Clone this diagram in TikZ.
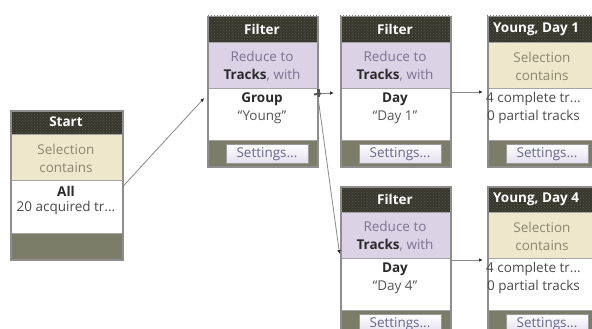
\documentclass[tikz,border=0pt]{standalone}
\usepackage{fontspec}
\setmainfont{Open Sans}
\usetikzlibrary{arrows.meta,patterns}
\definecolor{hdr}{HTML}{37372E}
\definecolor{hdrdot}{HTML}{5A5A4E}
\definecolor{beige}{HTML}{EFE7CC}
\definecolor{lav}{HTML}{DBD2E6}
\definecolor{foot}{HTML}{7B7D69}
\definecolor{framec}{HTML}{8E8E8E}
\definecolor{olivetxt}{HTML}{8B8670}
\definecolor{lavtxt}{HTML}{7B7391}
\definecolor{darktxt}{HTML}{2B2B2B}
\definecolor{quotetxt}{HTML}{555555}
\definecolor{btnlav}{HTML}{E3DEEE}
\definecolor{btnborder}{HTML}{9A9A9A}
\definecolor{btntxt}{HTML}{66668A}
\definecolor{linegray}{HTML}{8A8A8A}
\tikzset{
  base/.style={inner sep=0pt,font=\fontsize{13.5}{16}\selectfont},
  hdrtext/.style={inner sep=0pt,text=white,font=\fontsize{13.5}{16}\selectfont\bfseries},
  olive/.style={base,text=olivetxt},
  lavt/.style={base,text=lavtxt},
  boldt/.style={inner sep=0pt,text=darktxt,font=\fontsize{13.5}{16}\selectfont\bfseries},
  quotet/.style={base,text=quotetxt},
  plaint/.style={base,text=darktxt!85},
  frame/.style={draw=framec,line width=1.5pt,inner sep=0pt,fill=none},
  sepline/.style={draw=framec!80,line width=0.7pt},
  btn/.style={base,draw=btnborder,line width=0.8pt,top color=white,bottom color=btnlav,
    text=btntxt,minimum width=82pt,minimum height=19pt},
  conn/.style={draw=linegray,line width=0.8pt,
    -{Latex[length=4pt,width=3.5pt,color=darktxt]},shorten >=4pt},
  handle/.style={conn,{Rectangle[length=2pt,width=7pt,color=darktxt!80]}-{Latex[length=4pt,width=3.5pt,color=darktxt]}}
}
% #1 name, #2 left, #3 top, #4 width, #5 middle colour
\newcommand\panel[5]{%
  \begin{scope}[shift={(#2,#3)}]
    \fill[hdr] (0,0) rectangle (#4,\phdr);
    \fill[pattern=crosshatch dots,pattern color=hdrdot] (0,0) rectangle (#4,\phdr);
    \fill[#5] (0,\phdr) rectangle (#4,\phdr+\pmid);
    \fill[white] (0,\phdr+\pmid) rectangle (#4,\phdr+\pmid+\pwhite);
    \fill[foot] (0,\phdr+\pmid+\pwhite) rectangle (#4,\ptotal);
    \draw[sepline] (0,\phdr) -- (#4,\phdr);
    \draw[sepline] (0,\phdr+\pmid) -- (#4,\phdr+\pmid);
    \draw[sepline] (0,\phdr+\pmid+\pwhite) -- (#4,\phdr+\pmid+\pwhite);
    \node[frame,minimum width=#4pt,minimum height=\ptotal pt,anchor=north west] (#1) at (0,0) {};
    \node[inner sep=0pt,minimum width=#4pt,minimum height=\pwhite pt,anchor=north west] (#1-w) at (0,\phdr+\pmid) {};
  \end{scope}}
\begin{document}
\begin{tikzpicture}[x=1pt,y=-1pt]
\useasboundingbox (0,0) rectangle (592,329);
\fill[white] (0,0) rectangle (592,329);

% ---- Start box
\def\phdr{24}\def\pmid{46}\def\pwhite{53}\def\ptotal{149}
\panel{start}{10}{110}{112}{beige}
\node[hdrtext] (start-h) at (66,122) {Start};
\node[olive] (start-a) at (66,149) {Selection};
\node[olive] (start-b) at (66,168) {contains};
\begin{scope}
\clip (10,180) rectangle (122,233);
\node[boldt] (start-c) at (66,191) {All};
\node[plaint] (start-d) at (66,208) {20 acquired tr...};
\end{scope}

% ---- other boxes
\def\phdr{26}\def\pmid{46}\def\pwhite{52}\def\ptotal{150}
\panel{f1}{207}{16}{110}{lav}
\panel{f2}{340}{16}{110}{lav}
\panel{y1}{487}{16}{110}{beige}
\panel{f3}{340}{186}{110}{lav}
\panel{y4}{487}{186}{110}{beige}

% f1
\node[hdrtext] (f1-h) at (262,29) {Filter};
\node[lavt] (f1-a) at (262,56) {Reduce to};
\node[lavt] (f1-b) at (262,75) {\textcolor{darktxt}{\bfseries Tracks}, with};
\node[boldt] (f1-c) at (262,99) {Group};
\node[quotet] (f1-d) at (262,117) {``Young''};
\node[btn] (f1-s) at (267,154) {Settings...};

% f2
\node[hdrtext] (f2-h) at (395,29) {Filter};
\node[lavt] (f2-a) at (395,56) {Reduce to};
\node[lavt] (f2-b) at (395,75) {\textcolor{darktxt}{\bfseries Tracks}, with};
\node[boldt] (f2-c) at (395,99) {Day};
\node[quotet] (f2-d) at (395,117) {``Day 1''};
\node[btn] (f2-s) at (400,154) {Settings...};

% f3
\node[hdrtext] (f3-h) at (395,199) {Filter};
\node[lavt] (f3-a) at (395,226) {Reduce to};
\node[lavt] (f3-b) at (395,245) {\textcolor{darktxt}{\bfseries Tracks}, with};
\node[boldt] (f3-c) at (395,269) {Day};
\node[quotet] (f3-d) at (395,287) {``Day 4''};
\node[btn] (f3-s) at (400,324) {Settings...};

% y1
\node[hdrtext,anchor=west] (y1-h) at (493,29) {Young, Day 1};
\node[olive] (y1-a) at (542,57) {Selection};
\node[olive] (y1-b) at (542,76) {contains};
\node[plaint,anchor=west] (y1-c) at (486,99) {4 complete tr...};
\node[plaint,anchor=west] (y1-d) at (487,117) {0 partial tracks};
\node[btn] (y1-s) at (547,154) {Settings...};

% y4
\node[hdrtext,anchor=west] (y4-h) at (493,199) {Young, Day 4};
\node[olive] (y4-a) at (542,227) {Selection};
\node[olive] (y4-b) at (542,246) {contains};
\node[plaint,anchor=west] (y4-c) at (486,269) {4 complete tr...};
\node[plaint,anchor=west] (y4-d) at (487,287) {0 partial tracks};
\node[btn] (y4-s) at (547,324) {Settings...};

% ---- connectors
\coordinate (start-o) at ([yshift=-7pt]start-w.north east);
\coordinate (f1-i) at ([yshift=-7pt]f1-w.north west);
\coordinate (f1-o) at ([yshift=-5pt]f1-w.north east);
\coordinate (f2-i) at ([yshift=-5pt]f2-w.north west);
\coordinate (f2-o) at ([yshift=-4pt]f2-w.north east);
\coordinate (y1-i) at ([yshift=-4pt]y1-w.north west);
\coordinate (f3-i) at ([yshift=1pt]f3-w.north west);
\coordinate (f3-o) at ([yshift=-2pt]f3-w.north east);
\coordinate (y4-i) at ([yshift=-2pt]y4-w.north west);

\draw[conn] (start-o) -- (f1-i);
\draw[handle,shorten >=6pt] (f1-o) -- (f2-i);
\draw[handle,shorten >=3pt] (f1-o) -- (f3-i);
\draw[conn] (f2-o) -- (y1-i);
\draw[conn] (f3-o) -- (y4-i);
\end{tikzpicture}
\end{document}
